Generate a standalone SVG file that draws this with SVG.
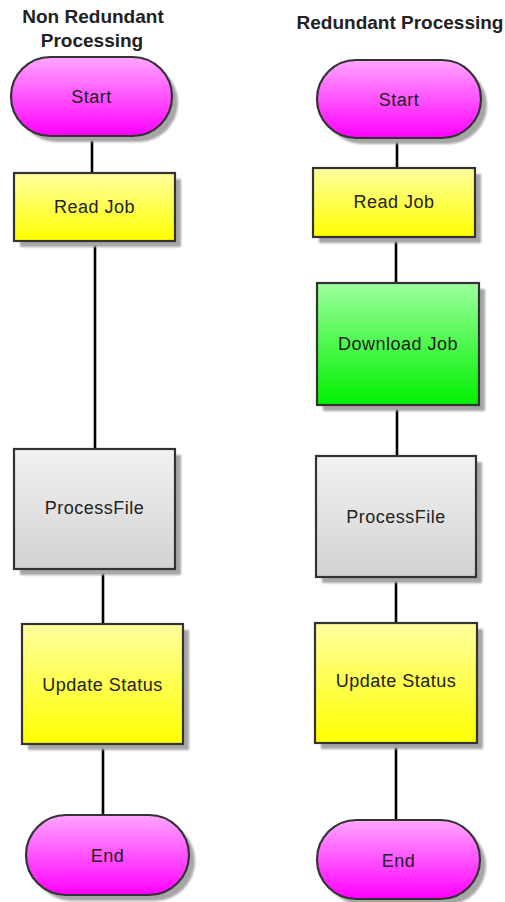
<svg xmlns="http://www.w3.org/2000/svg" width="505" height="902" viewBox="0 0 505 902">
  <defs>
    <linearGradient id="gMagenta" x1="0" y1="0" x2="0" y2="1">
      <stop offset="0" stop-color="#ffa6ff"/>
      <stop offset="1" stop-color="#ff00ff"/>
    </linearGradient>
    <linearGradient id="gYellow" x1="0" y1="0" x2="0" y2="1">
      <stop offset="0" stop-color="#ffffa0"/>
      <stop offset="1" stop-color="#ffff00"/>
    </linearGradient>
    <linearGradient id="gGreen" x1="0" y1="0" x2="0" y2="1">
      <stop offset="0" stop-color="#9dff9d"/>
      <stop offset="1" stop-color="#00f000"/>
    </linearGradient>
    <linearGradient id="gGray" x1="0" y1="0" x2="0" y2="1">
      <stop offset="0" stop-color="#f2f2f2"/>
      <stop offset="1" stop-color="#d2d2d2"/>
    </linearGradient>
    <filter id="soft" x="-10%" y="-10%" width="120%" height="120%">
      <feGaussianBlur stdDeviation="1.2"/>
    </filter>
  </defs>
  <style>
    .title { font-family: "Liberation Sans", Arial, sans-serif; font-size: 19px; font-weight: bold; fill: #222; text-anchor: middle; }
    .label { font-family: "Liberation Sans", Arial, sans-serif; font-size: 18px; letter-spacing: 0.5px; fill: #222; text-anchor: middle; }
    .shadow { fill: #a6a6a6; filter: url(#soft); }
    .box { stroke: #333; stroke-width: 2.2; }
    .magenta { fill: url(#gMagenta); }
    .yellow { fill: url(#gYellow); }
    .green { fill: url(#gGreen); }
    .gray { fill: url(#gGray); }
    .wire { stroke: #000; stroke-width: 2.6; fill: none; }
  </style>

  <rect width="505" height="902" fill="#fff"/>

  <!-- column headings -->
  <text class="title" x="93" y="23">Non Redundant</text>
  <text class="title" x="92" y="47">Processing</text>
  <text class="title" x="400" y="29">Redundant Processing</text>

  <!-- connectors -->
  <g id="connectors">
    <line class="wire" x1="92" y1="136" x2="92" y2="173"/>
    <line class="wire" x1="95" y1="241" x2="95" y2="449"/>
    <line class="wire" x1="103" y1="569" x2="103" y2="624"/>
    <line class="wire" x1="103" y1="744" x2="103" y2="815"/>
    <line class="wire" x1="397" y1="138" x2="397" y2="168"/>
    <line class="wire" x1="396" y1="237" x2="396" y2="283"/>
    <line class="wire" x1="397" y1="405" x2="397" y2="456"/>
    <line class="wire" x1="396" y1="577" x2="396" y2="623"/>
    <line class="wire" x1="396" y1="743" x2="396" y2="820"/>
  </g>

  <!-- non redundant column -->
  <g id="startL">
    <rect class="shadow" x="17" y="63" width="161" height="79" rx="39.5"/>
    <rect class="box magenta" x="11" y="57" width="161" height="79" rx="39.5"/>
    <text class="label" x="91.5" y="103">Start</text>
  </g>
  <g id="readJobL">
    <rect class="shadow" x="20" y="179" width="161" height="68"/>
    <rect class="box yellow" x="14" y="173" width="161" height="68"/>
    <text class="label" x="94.5" y="213">Read Job</text>
  </g>
  <g id="processFileL">
    <rect class="shadow" x="20" y="455" width="161" height="120"/>
    <rect class="box gray" x="14" y="449" width="161" height="120"/>
    <text class="label" x="94.5" y="514">ProcessFile</text>
  </g>
  <g id="updateStatusL">
    <rect class="shadow" x="28" y="630" width="161" height="120"/>
    <rect class="box yellow" x="22" y="624" width="161" height="120"/>
    <text class="label" x="102.5" y="690.5">Update Status</text>
  </g>
  <g id="endL">
    <rect class="shadow" x="32" y="821" width="163" height="80" rx="40"/>
    <rect class="box magenta" x="26" y="815" width="163" height="80" rx="40"/>
    <text class="label" x="107.5" y="862">End</text>
  </g>

  <!-- redundant column -->
  <g id="startR">
    <rect class="shadow" x="323" y="66" width="164" height="78" rx="39"/>
    <rect class="box magenta" x="317" y="60" width="164" height="78" rx="39"/>
    <text class="label" x="399" y="106">Start</text>
  </g>
  <g id="readJobR">
    <rect class="shadow" x="319" y="174" width="162" height="69"/>
    <rect class="box yellow" x="313" y="168" width="162" height="69"/>
    <text class="label" x="394" y="208">Read Job</text>
  </g>
  <g id="downloadJobR">
    <rect class="shadow" x="323" y="289" width="162" height="122"/>
    <rect class="box green" x="317" y="283" width="162" height="122"/>
    <text class="label" x="398" y="350">Download Job</text>
  </g>
  <g id="processFileR">
    <rect class="shadow" x="322" y="462" width="160" height="121"/>
    <rect class="box gray" x="316" y="456" width="160" height="121"/>
    <text class="label" x="396" y="522.5">ProcessFile</text>
  </g>
  <g id="updateStatusR">
    <rect class="shadow" x="321" y="629" width="162" height="120"/>
    <rect class="box yellow" x="315" y="623" width="162" height="120"/>
    <text class="label" x="396" y="687">Update Status</text>
  </g>
  <g id="endR">
    <rect class="shadow" x="323" y="826" width="163" height="79" rx="39.5"/>
    <rect class="box magenta" x="317" y="820" width="163" height="79" rx="39.5"/>
    <text class="label" x="398.5" y="867">End</text>
  </g>
</svg>
